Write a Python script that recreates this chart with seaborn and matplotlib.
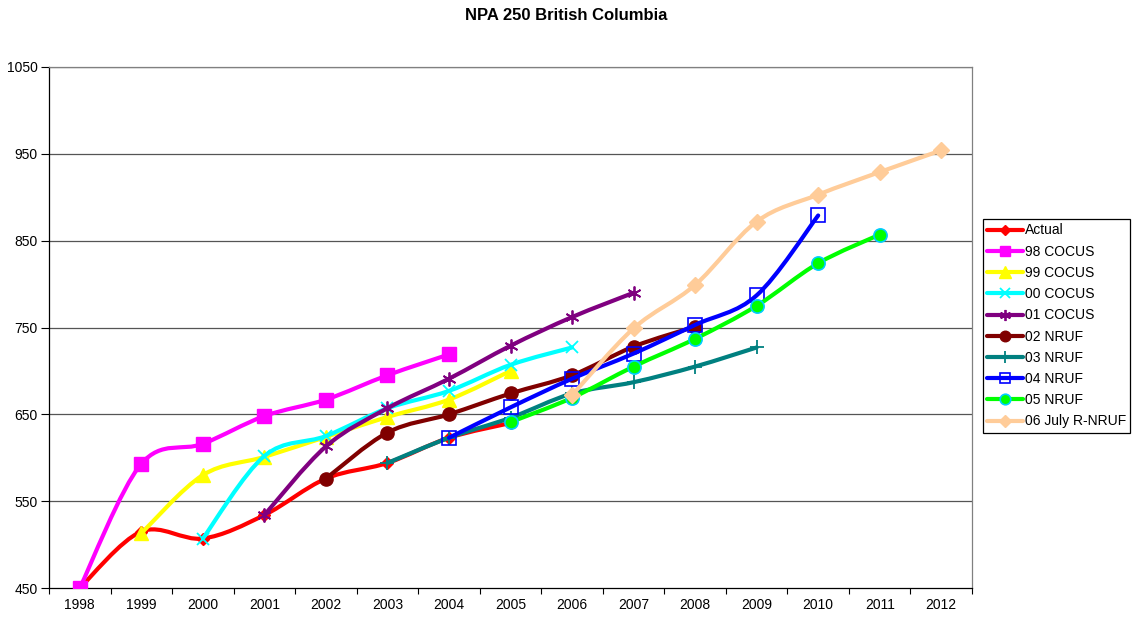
import matplotlib
matplotlib.use("Agg")
import matplotlib.pyplot as plt
from matplotlib.path import Path
from matplotlib.patches import PathPatch
from matplotlib.lines import Line2D
import seaborn as sns
import numpy as np

years = ["1998", "1999", "2000", "2001", "2002", "2003", "2004", "2005",
         "2006", "2007", "2008", "2009", "2010", "2011", "2012"]

actual = [450, 515, 507, 534, 576, 594, 623, 640]               # from 1998
cocus_98 = [450, 593, 616, 648, 667, 695, 719]                  # from 1998
cocus_99 = [513, 580, 601, 624, 647, 667, 700]                  # from 1999
cocus_00 = [507, 602, 625, 657, 677, 707, 727]                  # from 2000
cocus_01 = [534, 613, 657, 691, 729, 762, 790]                  # from 2001
nruf_02 = [576, 629, 650, 674, 695, 728, 751]                   # from 2002
nruf_03 = [594, 623, 646, 674, 687, 705, 727]                   # from 2003
nruf_04 = [623, 658, 691, 720, 753, 787, 879]                   # from 2004
nruf_05 = [641, 669, 705, 737, 775, 824, 857]                   # from 2005
rnruf_06 = [672, 749, 799, 872, 903, 929, 954]                  # from 2006

series = [
    ("Actual", "1998", actual, dict(color="#FF0000", marker="D", ms=6, mfc="#FF0000", mec="#FF0000", mew=1)),
    ("98 COCUS", "1998", cocus_98, dict(color="#FF00FF", marker="s", ms=9.5, mfc="#FF00FF", mec="#FF00FF", mew=1)),
    ("99 COCUS", "1999", cocus_99, dict(color="#FFFF00", marker="^", ms=10, mfc="#FFFF00", mec="#FFFF00", mew=1)),
    ("00 COCUS", "2000", cocus_00, dict(color="#00FFFF", marker="x", ms=9, mfc="#00FFFF", mec="#00FFFF", mew=1.3)),
    ("01 COCUS", "2001", cocus_01, dict(color="#800080", marker=(6, 2, 0), ms=10, mfc="#800080", mec="#800080", mew=1.3)),
    ("02 NRUF", "2002", nruf_02, dict(color="#800000", marker="o", ms=9.5, mfc="#800000", mec="#800000", mew=1)),
    ("03 NRUF", "2003", nruf_03, dict(color="#008080", marker="+", ms=10, mfc="#008080", mec="#008080", mew=1.3)),
    ("04 NRUF", "2004", nruf_04, dict(color="#0000FF", marker="s", ms=9.5, mfc="none", mec="#0000FF", mew=1.2)),
    ("05 NRUF", "2005", nruf_05, dict(color="#00FF00", marker="o", ms=9.5, mfc="#00FF00", mec="#00CCFF", mew=1.2)),
    ("06 July R-NRUF", "2006", rnruf_06, dict(color="#FFCC99", marker="D", ms=8, mfc="#FFCC99", mec="#FFCC99", mew=1)),
]

sns.set_theme(style="white")
plt.rcParams["font.family"] = ["Liberation Sans", "DejaVu Sans"]
plt.rcParams["text.color"] = "black"
plt.rcParams["xtick.color"] = "black"
plt.rcParams["ytick.color"] = "black"

fig = plt.figure(figsize=(11.33, 6.22), dpi=100)
ax = fig.add_axes([49 / 1133, 1 - 588 / 622, (972 - 49) / 1133, (588 - 67) / 622])


def smooth_path(xs, ys):
    # Excel-style smoothed line (cubic Bezier, Catmull-Rom tangents / 6)
    pts = np.column_stack([xs, ys]).astype(float)
    n = len(pts)
    verts = [pts[0]]
    codes = [Path.MOVETO]
    for i in range(n - 1):
        p0 = pts[i - 1] if i > 0 else pts[i]
        p1 = pts[i]
        p2 = pts[i + 1]
        p3 = pts[i + 2] if i + 2 < n else pts[i + 1]
        c1 = p1 + (p2 - p0) / 6.0
        c2 = p2 - (p3 - p1) / 6.0
        verts += [c1, c2, p2]
        codes += [Path.CURVE4] * 3
    return Path(verts, codes)


handles = []
for k, (name, start, vals, st) in enumerate(series):
    s0 = years.index(start)
    xs = np.arange(s0, s0 + len(vals))
    patch = PathPatch(smooth_path(xs, vals), facecolor="none", edgecolor=st["color"],
                      lw=3, capstyle="round", joinstyle="round", zorder=3 + 2 * k)
    ax.add_patch(patch)
    sns.lineplot(x=xs, y=vals, ax=ax, linestyle="none", marker=st["marker"],
                 markersize=st["ms"], markerfacecolor=st["mfc"], markeredgecolor=st["mec"],
                 markeredgewidth=st["mew"], color=st["color"], zorder=4 + 2 * k,
                 legend=False)
    handles.append(Line2D([0], [0], color=st["color"], lw=3, marker=st["marker"],
                          markersize=st["ms"] * 0.8, markerfacecolor=st["mfc"],
                          markeredgecolor=st["mec"], markeredgewidth=st["mew"], label=name))

ax.set_xlim(-0.5, len(years) - 0.5)
ax.set_ylim(450, 1050)
ax.set_yticks(np.arange(450, 1051, 100))
ax.set_yticklabels([str(v) for v in range(450, 1051, 100)], fontsize=10)
ax.set_xticks(np.arange(-0.5, len(years), 1.0))
ax.set_xticklabels([])
ax.set_xticks(np.arange(len(years)), minor=True)
ax.set_xticklabels(years, minor=True, fontsize=10)
ax.tick_params(axis="x", which="major", direction="out", length=4, width=0.8, color="black", bottom=True)
ax.tick_params(axis="x", which="minor", length=0, pad=7)
ax.tick_params(axis="y", direction="out", length=6, width=0.8, color="black", left=True, pad=2)

for v in range(550, 1051, 100):
    ax.axhline(v, color="#555555", lw=0.9, zorder=1)

for side in ["left", "bottom"]:
    ax.spines[side].set_color("black")
    ax.spines[side].set_linewidth(0.9)
for side in ["right", "top"]:
    ax.spines[side].set_color("#808080")
    ax.spines[side].set_linewidth(0.9)
ax.set_xlabel("")
ax.set_ylabel("")

fig.suptitle("NPA 250 British Columbia", x=0.5, y=1 - 16 / 622, fontsize=12,
             fontweight="bold", va="center", color="black")

leg = fig.legend(handles=handles, loc="center left", bbox_to_anchor=(983 / 1133, 1 - 326 / 622),
                 fontsize=10, frameon=True, fancybox=False, framealpha=1, edgecolor="black",
                 labelspacing=0.52, handlelength=2.6, handletextpad=0.1, borderpad=0.3,
                 borderaxespad=0)
leg.get_frame().set_linewidth(0.9)

fig.savefig("out.png", dpi=100, facecolor="white")
